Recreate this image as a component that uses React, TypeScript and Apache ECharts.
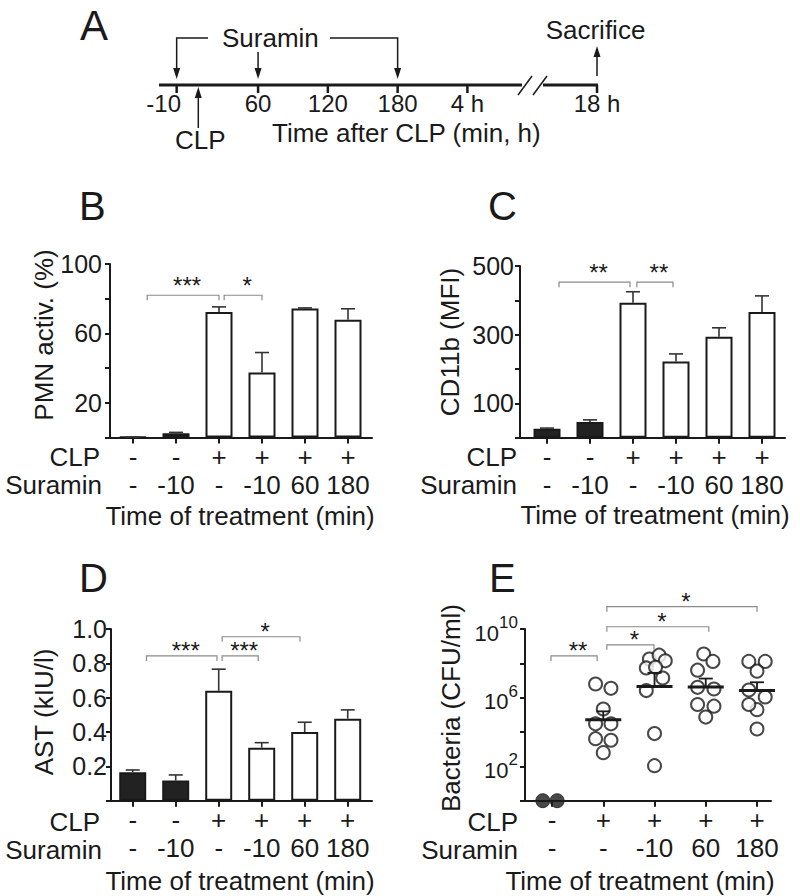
import React, { useEffect, useRef } from 'react';
import * as echarts from 'echarts';

const FONT = '"Liberation Sans", Arial, Helvetica, sans-serif';
const INK = '#1a1a1a';
const GREY = '#8a8a8a';

// ---------- Panel A (schedule) ----------
const timelineLabels = ['-10', '60', '120', '180', '4 h', '18 h'];
const timelineMinutes = [-10, 60, 120, 180, 240, 1080];
const suraminMinutes = [-10, 60, 180];
const clpMinute = 0;
const sacrificeMinute = 1080;

// ---------- Panels B–D ----------
const clpRow = ['-', '-', '+', '+', '+', '+'];
const suraminRow = ['-', '-10', '-', '-10', '60', '180'];
const untreatedBar = [true, true, false, false, false, false];

const pmnMean = [0.3, 2.5, 72.3, 37.5, 74.4, 67.9];
const pmnSem = [0, 0.5, 3, 11.5, 0.3, 6.3];
const pmnBrackets = [[0.33, 2.0, 82], [2.12, 3.0, 82]];
const pmnStars = ['***', '*'];

const cd11bMean = [26, 46, 393, 222, 294, 366];
const cd11bSem = [2, 6, 32, 22, 26, 47];
const cd11bBrackets = [[0.28, 1.93, 453], [2.09, 2.93, 453]];
const cd11bStars = ['**', '**'];

const astMean = [0.166, 0.117, 0.64, 0.309, 0.4, 0.478];
const astSem = [0.013, 0.033, 0.126, 0.029, 0.057, 0.051];
const astBrackets = [[0.32, 1.96, 0.843], [2.08, 2.92, 0.843], [2.08, 3.89, 0.955]];
const astStars = ['***', '***', '*'];

// ---------- Panel E ----------
const clpRowE = ['-', '+', '+', '+', '+'];
const suraminRowE = ['-', '-', '-10', '60', '180'];
const bacteriaGroup = [0, 0, 1, 1, 1, 1, 1, 1, 1, 1, 2, 2, 2, 2, 2, 2, 2, 2, 2, 3, 3, 3, 3, 3, 3, 3, 3, 4, 4, 4, 4, 4, 4, 4, 4];
const bacteriaJitter = [-0.18, 0.1, -0.15, 0.15, 0, -0.15, 0.15, -0.15, 0.15, 0, -0.1, 0.09, 0.21, -0.16, 0.02, 0.16, -0.16, 0, 0, -0.04, 0.14, -0.16, -0.16, 0.16, -0.16, 0.16, 0, -0.16, 0.16, 0, -0.16, 0.16, 0, -0.16, 0];
const bacteriaCFU = [1, 1, 6.3e6, 3.5e6, 2.2e5, 3.0e4, 3.0e4, 4.1e3, 3.3e3, 6.3e2, 1.8e8, 3.0e8, 1.4e8, 5.4e7, 5.9e7, 1.4e7, 2.6e6, 8.1e3, 1.1e2, 3.5e8, 1.3e8, 4.0e7, 4.0e6, 3.2e6, 4.0e5, 3.2e5, 7.4e4, 1.3e8, 1.3e8, 3.5e7, 2.8e6, 1.1e6, 2.0e5, 4.0e5, 1.5e4];
const bacteriaMeanGroup = [1, 2, 3, 4];
const bacteriaMean = [5.1e4, 4.5e6, 4.2e6, 2.6e6];
const bacteriaSemTop = [1.6e5, 2.8e7, 1.3e7, 7.9e6];
const bacteriaBrackets = [[-0.02, 0.88, 2.7e8], [1.07, 1.99, 1.2e9], [1.07, 3.06, 1.35e10], [1.07, 4.0, 2.0e11]];
const bacteriaStars = ['**', '*', '*', '*'];

const txt = (text: string, x: number, y: number, fontSize: number, align = 'left', extra: any = {}, vAlign = 'middle') => ({
  type: 'text',
  x,
  y,
  ...extra,
  style: { text, fontSize, fontFamily: FONT, fill: INK, align, verticalAlign: vAlign },
});
const seg = (x1: number, y1: number, x2: number, y2: number, w = 1.5, c = INK) => ({
  type: 'line',
  shape: { x1, y1, x2, y2 },
  style: { stroke: c, lineWidth: w },
});
const arrowHead = (x: number, tipY: number, dir: 1 | -1) => ({
  type: 'polygon',
  shape: { points: [[x, tipY], [x - 3.5, tipY - dir * 11], [x + 3.5, tipY - dir * 11]] },
  style: { fill: INK },
});

function buildPanelA() {
  const ax = (t: number) => (t <= 300 ? 188.3 + 1.163 * t : 597);
  const y0 = 85;
  const els: any[] = [];
  els.push(seg(159, y0, 522, y0, 3));
  els.push(seg(543, y0, ax(sacrificeMinute) + 1, y0, 3));
  els.push(seg(518, 95, 532, 76, 1.5));
  els.push(seg(533, 95, 547, 76, 1.5));
  timelineMinutes.forEach((t, i) => {
    els.push(seg(ax(t), y0, ax(t), y0 + 8, 2.5));
    const dx = timelineLabels[i].startsWith('-') ? -13 : 0;
    els.push(txt(timelineLabels[i], ax(t) + dx, 103, 24, 'center'));
  });
  // CLP arrow
  const xc = ax(clpMinute) + 10;
  els.push(seg(xc, 128, xc, 96, 1.5));
  els.push(arrowHead(xc, 87, -1));
  els.push(txt('CLP', xc + 2, 140, 26, 'center'));
  // Suramin bracket
  const xs0 = ax(suraminMinutes[0]);
  const xs2 = ax(suraminMinutes[2]);
  els.push({ type: 'polyline', shape: { points: [[xs0, 70], [xs0, 38], [208, 38]] }, style: { stroke: INK, lineWidth: 1.5, fill: null } });
  els.push({ type: 'polyline', shape: { points: [[330, 38], [xs2, 38], [xs2, 70]] }, style: { stroke: INK, lineWidth: 1.5, fill: null } });
  els.push(seg(ax(suraminMinutes[1]), 52, ax(suraminMinutes[1]), 70, 1.5));
  suraminMinutes.forEach((t) => els.push(arrowHead(ax(t), 79, 1)));
  els.push(txt('Suramin', 222, 38, 26, 'left'));
  // Sacrifice
  const xsac = ax(sacrificeMinute);
  els.push(seg(xsac, 76, xsac, 56, 1.5));
  els.push(arrowHead(xsac, 46, -1));
  els.push(txt('Sacrifice', 595.5, 30, 26, 'center'));
  els.push(txt('Time after CLP (min, h)', 272, 133, 26, 'left'));
  return els;
}

const xAxisOf = (gridIndex: number, min: number, max: number, top: string[], bottom: string[]) => {
  const idx = top.map((_, i) => i);
  return {
    type: 'value',
    gridIndex,
    min,
    max,
    axisLine: { show: true, onZero: false, lineStyle: { color: INK, width: 2 } },
    axisTick: { show: true, customValues: idx, length: 6, lineStyle: { color: INK, width: 2 } },
    axisLabel: {
      customValues: idx,
      formatter: (v: number) => {
        const i = Math.round(v);
        return `${top[i]}\n${bottom[i]}`;
      },
      fontSize: 26,
      lineHeight: 28,
      margin: 5,
      color: INK,
      fontFamily: FONT,
    },
    splitLine: { show: false },
  };
};

const yAxisOf = (gridIndex: number, min: number, max: number, interval: number, labels: number[], margin: number, fmt?: (v: number) => string) => ({
  type: 'value',
  gridIndex,
  min,
  max,
  interval,
  axisLine: { show: true, onZero: false, lineStyle: { color: INK, width: 2 } },
  axisTick: { show: true, length: 5, lineStyle: { color: INK, width: 2 } },
  axisLabel: {
    customValues: labels,
    formatter: fmt || ((v: number) => String(v)),
    fontSize: 25,
    margin,
    color: INK,
    fontFamily: FONT,
  },
  splitLine: { show: false },
});

const barSeries = (ai: number, means: number[]) => ({
  type: 'bar',
  xAxisIndex: ai,
  yAxisIndex: ai,
  barWidth: 27,
  data: means.map((m, i) => ({
    value: [i, m],
    itemStyle: { color: untreatedBar[i] ? '#222' : '#fff', borderColor: INK, borderWidth: 2 },
  })),
  z: 2,
});

const errorSeries = (ai: number, means: number[], sems: number[]) => ({
  type: 'custom',
  xAxisIndex: ai,
  yAxisIndex: ai,
  data: means.map((m, i) => [i, m, m + sems[i]]),
  renderItem: (_p: any, api: any) => {
    const x = api.value(0);
    const lo = api.coord([x, api.value(1)]);
    const hi = api.coord([x, api.value(2)]);
    return {
      type: 'group',
      children: [
        { type: 'line', shape: { x1: lo[0], y1: lo[1], x2: hi[0], y2: hi[1] }, style: { stroke: '#333', lineWidth: 1.6 } },
        { type: 'line', shape: { x1: hi[0] - 7, y1: hi[1], x2: hi[0] + 7, y2: hi[1] }, style: { stroke: '#333', lineWidth: 1.6 } },
      ],
    };
  },
  z: 3,
});

const bracketSeries = (ai: number, brackets: number[][], stars: string[], gap: number) => ({
  type: 'custom',
  xAxisIndex: ai,
  yAxisIndex: ai,
  clip: false,
  encode: { x: [0, 1], y: 2 },
  data: brackets,
  renderItem: (p: any, api: any) => {
    const y = api.value(2);
    const p1 = api.coord([api.value(0), y]);
    const p2 = api.coord([api.value(1), y]);
    return {
      type: 'group',
      children: [
        {
          type: 'polyline',
          shape: { points: [[p1[0], p1[1] + 5], [p1[0], p1[1]], [p2[0], p2[1]], [p2[0], p2[1] + 5]] },
          style: { stroke: GREY, lineWidth: 1.2, fill: null },
        },
        {
          type: 'text',
          x: (p1[0] + p2[0]) / 2 + 4,
          y: p1[1] - gap + 5,
          style: { text: stars[p.dataIndex], fontSize: 24, fontFamily: FONT, fill: INK, align: 'center', verticalAlign: 'middle' },
        },
      ],
    };
  },
  z: 4,
});

function buildOption() {
  const graphic: any[] = [
    txt('A', 80, 4, 42, 'left', {}, 'top'),
    txt('B', 79, 206, 40),
    txt('C', 488, 206, 40),
    txt('D', 79, 578, 40),
    txt('E', 489, 578, 40),
    ...buildPanelA(),
    // row titles
    txt('CLP', 100, 457, 26, 'right'),
    txt('Suramin', 102, 485, 26, 'right'),
    txt('Time of treatment (min)', 240, 516, 26, 'center'),
    txt('CLP', 517, 457, 26, 'right'),
    txt('Suramin', 517, 485, 26, 'right'),
    txt('Time of treatment (min)', 655, 515, 26, 'center'),
    txt('CLP', 100, 822, 26, 'right'),
    txt('Suramin', 102, 850, 26, 'right'),
    txt('Time of treatment (min)', 240, 881, 26, 'center'),
    txt('CLP', 518, 822, 26, 'right'),
    txt('Suramin', 518, 850, 26, 'right'),
    txt('Time of treatment (min)', 640, 881, 26, 'center'),
    // y-axis names
    txt('PMN activ. (%)', 44, 335, 26, 'center', { rotation: Math.PI / 2 }),
    txt('CD11b (MFI)', 450, 342, 26, 'center', { rotation: Math.PI / 2 }),
    txt('AST (kIU/l)', 44, 712, 26, 'center', { rotation: Math.PI / 2 }),
    txt('Bacteria (CFU/ml)', 451, 708, 26, 'center', { rotation: Math.PI / 2 }),
  ];

  return {
    animation: false,
    backgroundColor: '#fff',
    textStyle: { fontFamily: FONT },
    grid: [
      { left: 110, top: 264, width: 262, height: 173.6 },
      { left: 520, top: 266, width: 265, height: 171.7 },
      { left: 111, top: 629, width: 261, height: 171.7 },
      { left: 525, top: 629, width: 246, height: 171.7 },
    ],
    xAxis: [
      xAxisOf(0, -0.535, 5.558, clpRow, suraminRow),
      xAxisOf(1, -0.628, 5.535, clpRow, suraminRow),
      xAxisOf(2, -0.505, 5.565, clpRow, suraminRow),
      xAxisOf(3, -0.527, 4.273, clpRowE, suraminRowE),
    ],
    yAxis: [
      yAxisOf(0, 0, 100, 20, [20, 60, 100], 8),
      yAxisOf(1, 0, 500, 100, [100, 300, 500], 6),
      yAxisOf(2, 0, 1, 0.2, [0.2, 0.4, 0.6, 0.8, 1.0], 4, (v: number) => v.toFixed(1)),
      {
        type: 'log',
        logBase: 10,
        gridIndex: 3,
        min: 1,
        max: 1e10,
        axisLine: { show: true, onZero: false, lineStyle: { color: INK, width: 2 } },
        axisTick: { show: true, customValues: [1, 1e2, 1e4, 1e6, 1e8, 1e10], length: 5, lineStyle: { color: INK, width: 2 } },
        axisLabel: {
          customValues: [1e2, 1e6, 1e10],
          margin: 7,
          formatter: (v: number) => `{b|10}{s|${Math.round(Math.log10(v))}}`,
          rich: {
            b: { fontSize: 22, lineHeight: 30, fontFamily: FONT, color: INK, verticalAlign: 'bottom' },
            s: { fontSize: 17, lineHeight: 18, fontFamily: FONT, color: INK, verticalAlign: 'top' },
          },
        },
        splitLine: { show: false },
      },
    ],
    series: [
      barSeries(0, pmnMean),
      errorSeries(0, pmnMean, pmnSem),
      bracketSeries(0, pmnBrackets, pmnStars, 15),
      barSeries(1, cd11bMean),
      errorSeries(1, cd11bMean, cd11bSem),
      bracketSeries(1, cd11bBrackets, cd11bStars, 15),
      barSeries(2, astMean),
      errorSeries(2, astMean, astSem),
      bracketSeries(2, astBrackets, astStars, 10),
      {
        type: 'scatter',
        xAxisIndex: 3,
        yAxisIndex: 3,
        clip: false,
        symbol: 'circle',
        symbolSize: 13,
        data: bacteriaCFU.map((v, i) => ({
          value: [bacteriaGroup[i] + bacteriaJitter[i], v],
          itemStyle: bacteriaGroup[i] === 0 ? { color: INK, borderColor: INK, borderWidth: 1 } : { color: '#fff', borderColor: INK, borderWidth: 2 },
          symbolSize: bacteriaGroup[i] === 0 ? 14 : 13,
        })),
        z: 3,
      },
      {
        type: 'custom',
        xAxisIndex: 3,
        yAxisIndex: 3,
        data: bacteriaMean.map((m, i) => [bacteriaMeanGroup[i], m, bacteriaSemTop[i]]),
        renderItem: (_p: any, api: any) => {
          const x = api.value(0);
          const m = api.coord([x, api.value(1)]);
          const s = api.coord([x, api.value(2)]);
          return {
            type: 'group',
            children: [
              { type: 'line', shape: { x1: m[0] - 18, y1: m[1], x2: m[0] + 18, y2: m[1] }, style: { stroke: INK, lineWidth: 3 } },
              { type: 'line', shape: { x1: s[0], y1: m[1], x2: s[0], y2: s[1] }, style: { stroke: INK, lineWidth: 1.8 } },
              { type: 'line', shape: { x1: s[0] - 7, y1: s[1], x2: s[0] + 7, y2: s[1] }, style: { stroke: INK, lineWidth: 1.8 } },
            ],
          };
        },
        z: 4,
      },
      bracketSeries(3, bacteriaBrackets, bacteriaStars, 10),
    ],
    graphic,
  };
}

export default function App() {
  const ref = useRef<HTMLDivElement>(null);
  useEffect(() => {
    if (!ref.current) return;
    const chart = echarts.init(ref.current, undefined, { renderer: 'svg' });
    chart.setOption(buildOption() as any);
    return () => chart.dispose();
  }, []);
  return (
    <div
      ref={ref}
      style={{ position: 'fixed', left: 0, top: 0, width: 800, height: 896, background: '#fff' }}
    />
  );
}
